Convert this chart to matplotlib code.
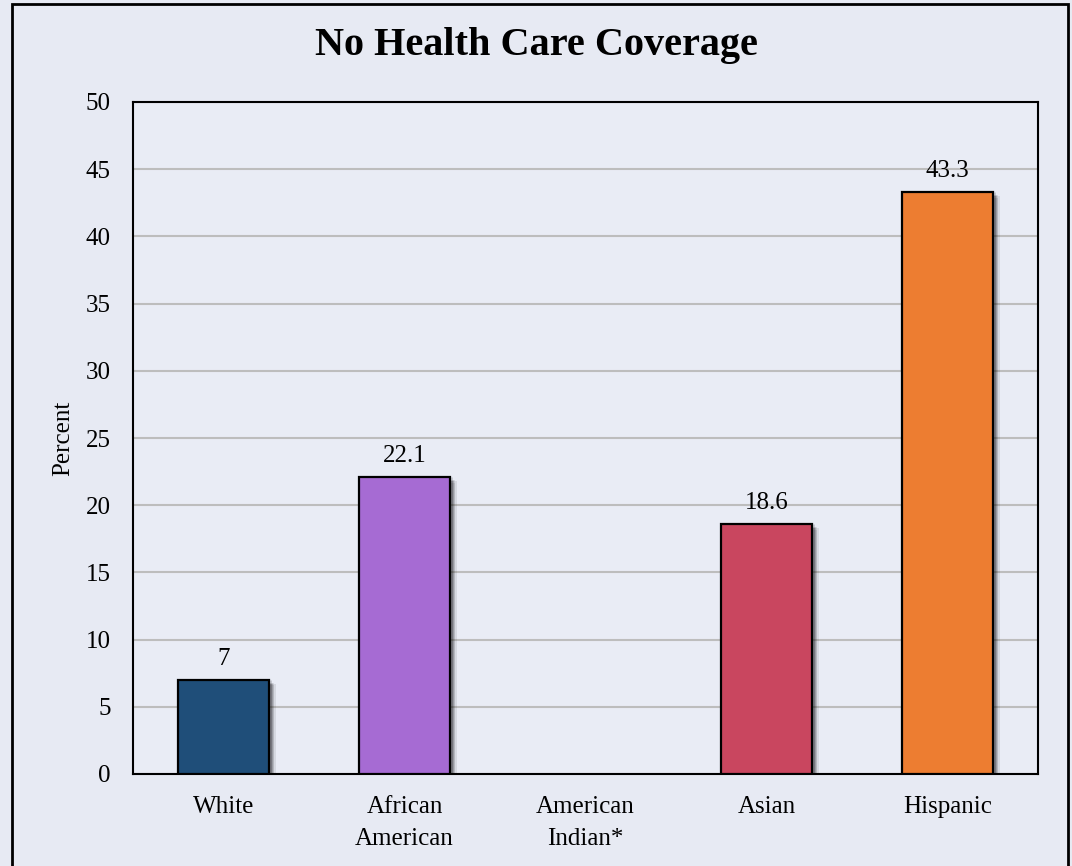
import matplotlib
matplotlib.use('Agg')
import matplotlib.pyplot as plt
import matplotlib.patheffects as pe
from matplotlib.patches import Rectangle

# chart data
groups = ['White', 'African\nAmerican', 'American\nIndian*', 'Asian', 'Hispanic']
values = [7, 22.1, None, 18.6, 43.3]
colors = ['#1f4e79', '#a66bd3', '#999999', '#c9465f', '#ed7d31']
yticks = [0, 5, 10, 15, 20, 25, 30, 35, 40, 45, 50]

plt.rcParams['font.family'] = ['Liberation Serif', 'DejaVu Serif']

fig = plt.figure(figsize=(10.72, 8.66), dpi=100)
fig.patch.set_facecolor('#e7eaf3')
ax = fig.add_axes([133/1072, 1-774/866, 905/1072, 672/866])
ax.set_facecolor('#e9ecf5')

# soft shadow built from stacked offset copies
shadow = []
for dx, dy in [(1, -1), (2, -1), (3, -2), (2, 0), (3, -3), (1, 1), (4, -2), (2, -3), (4, -4), (5, -3)]:
    shadow.append(pe.SimplePatchShadow(offset=(dx, dy), shadow_rgbFace='k', alpha=0.08))
shadow.append(pe.Normal())

for i, v in enumerate(values):
    if v is None:
        continue
    b = ax.bar(i, v, width=0.5, color=colors[i], edgecolor='black', linewidth=1.6, zorder=3)
    b[0].set_path_effects(shadow)
    ax.text(i, v + 0.75, '%g' % v, ha='center', va='bottom', fontsize=18, zorder=4)

ax.set_xlim(-0.5, 4.5)
ax.set_ylim(0, 50)
ax.set_yticks(yticks)
ax.set_xticks(range(len(groups)))
ax.set_xticklabels(groups, linespacing=1.6)
ax.tick_params(axis='both', length=0, labelsize=18)
ax.tick_params(axis='y', pad=16)
ax.tick_params(axis='x', pad=16)
ax.yaxis.grid(True, color='#bdbdbd', linewidth=1.5, zorder=0)
ax.set_axisbelow(True)
for s in ax.spines.values():
    s.set_linewidth(1.5)
    s.set_color('black')
ax.set_ylabel('Percent', fontsize=18, labelpad=8)

fig.text(0.5, 1-46/866, 'No Health Care Coverage', ha='center', va='center',
         fontsize=29, fontweight='bold')

# outer frame
fig.add_artist(Rectangle((12/1072, -0.02), 1056/1072, 1.02-4/866, transform=fig.transFigure,
                         fill=False, edgecolor='black', linewidth=2))

fig.savefig('out.png', dpi=100, facecolor=fig.get_facecolor())
